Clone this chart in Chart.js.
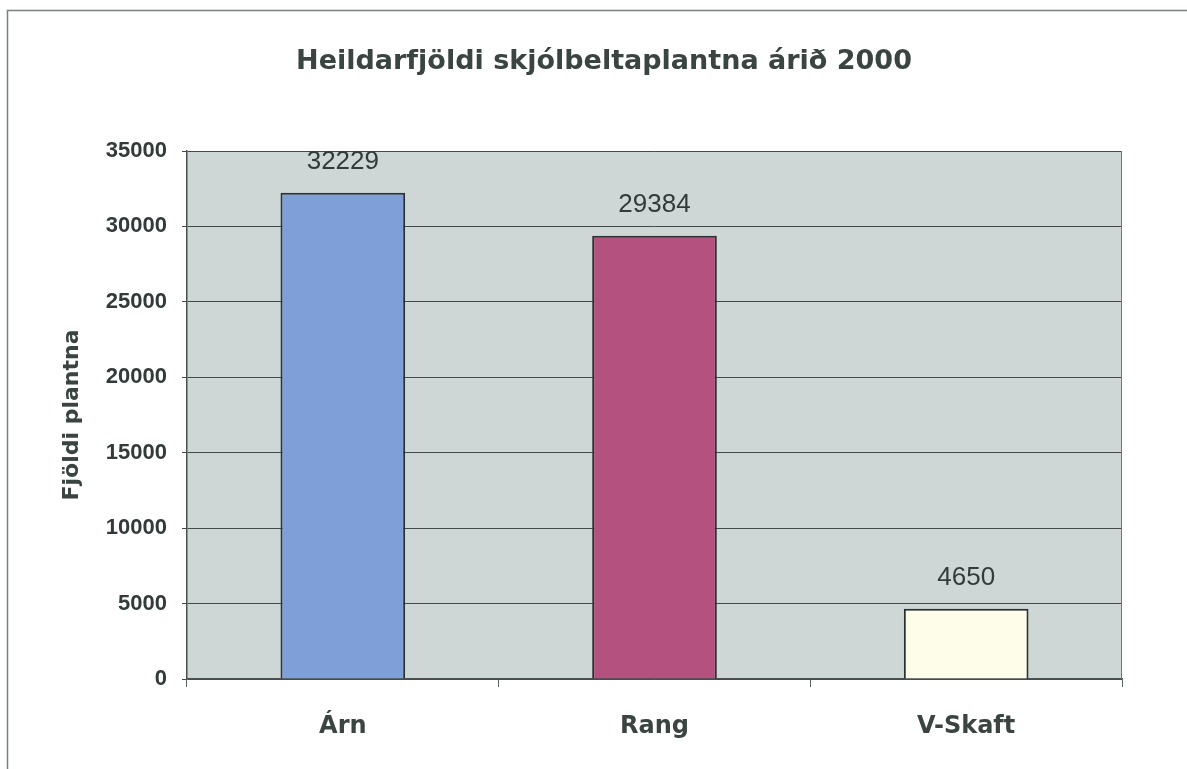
<!DOCTYPE html>
<html lang="is">
<head>
    <meta charset="UTF-8">
    <title>Heildarfjöldi skjólbeltaplantna árið 2000</title>
    <script src="https://cdn.jsdelivr.net/npm/chart.js"></script>
    <style>
        html, body { margin: 0; padding: 0; background: #fff; }
        #wrap { width: 1187px; height: 769px; }
    </style>
</head>
<body>
    <div id="wrap"><canvas id="plantChart" width="1187" height="769"></canvas></div>

    <script>
const titleText = 'Heildarfjöldi skjólbeltaplantna árið 2000';
const yAxisTitle = 'Fjöldi plantna';
const regions = ['Árn', 'Rang', 'V-Skaft'];
const plantCounts = [32229, 29384, 4650];
const barColors = ['#7f9fd9', '#b5517f', '#fdfde9'];
const yTicks = [0, 5000, 10000, 15000, 20000, 25000, 30000, 35000];

const comicFont = "'Comic Sans MS', 'DejaVu Sans', sans-serif";
const arialFont = "Arial, 'Liberation Sans', sans-serif";
const textColor = '#3a4541';

// gray plot background, outer page frame and right edge of plot
const framePlugin = {
    id: 'frame',
    beforeDraw(chart) {
        const ctx = chart.ctx;
        const a = chart.chartArea;
        ctx.save();
        ctx.fillStyle = '#ffffff';
        ctx.fillRect(0, 0, chart.width, chart.height);
        ctx.strokeStyle = '#7a7f7f';
        ctx.lineWidth = 1.5;
        ctx.beginPath();
        ctx.moveTo(7.5, chart.height);
        ctx.lineTo(7.5, 10.5);
        ctx.lineTo(chart.width, 10.5);
        ctx.stroke();
        ctx.fillStyle = '#ced7d6';
        ctx.fillRect(a.left, a.top, a.right - a.left, a.bottom - a.top);
        ctx.restore();
    },
    beforeDatasetsDraw(chart) {
        const ctx = chart.ctx;
        const a = chart.chartArea;
        ctx.save();
        ctx.strokeStyle = '#6f7676';
        ctx.lineWidth = 1;
        ctx.beginPath();
        ctx.moveTo(a.right - 0.5, a.top);
        ctx.lineTo(a.right - 0.5, a.bottom);
        ctx.stroke();
        ctx.restore();
    }
};

// value labels above the bars
const valueLabels = {
    id: 'valueLabels',
    afterDatasetsDraw(chart) {
        const ctx = chart.ctx;
        const meta = chart.getDatasetMeta(0);
        ctx.save();
        ctx.font = '26px ' + arialFont;
        ctx.fillStyle = '#333b3a';
        ctx.textAlign = 'center';
        ctx.textBaseline = 'middle';
        meta.data.forEach((bar, i) => {
            ctx.fillText(String(plantCounts[i]), bar.x, bar.y - 31);
        });
        ctx.restore();
    }
};

new Chart(document.getElementById('plantChart'), {
    type: 'bar',
    data: {
        labels: regions,
        datasets: [{
            data: plantCounts,
            backgroundColor: barColors,
            borderColor: '#2b3131',
            borderWidth: 2,
            barPercentage: 0.4,
            categoryPercentage: 1.0
        }]
    },
    options: {
        responsive: false,
        animation: false,
        layout: { padding: { left: 21, right: 0, top: 0, bottom: 0 } },
        plugins: {
            legend: { display: false },
            tooltip: { enabled: false },
            title: {
                display: true,
                text: titleText,
                color: textColor,
                font: { family: comicFont, size: 27, weight: 'bold' },
                padding: { top: 46, bottom: 72.6 }
            }
        },
        scales: {
            x: {
                grid: { drawOnChartArea: false, drawTicks: true, tickLength: 8, color: '#5a6161' },
                border: { color: '#4a5151', width: 1.5 },
                ticks: {
                    color: textColor,
                    font: { family: comicFont, size: 24, weight: 'bold' },
                    padding: 25
                },
                afterFit(scale) { scale.height = 90; }
            },
            y: {
                min: 0,
                max: 35000,
                afterBuildTicks(scale) { scale.ticks = yTicks.map(v => ({ value: v })); },
                grid: { color: '#434a4a', lineWidth: 1, tickLength: 5 },
                border: { color: '#4a5151', width: 1.5 },
                ticks: {
                    color: '#333b3a',
                    font: { family: arialFont, size: 22, weight: 'bold' },
                    padding: 15,
                    callback: v => String(v)
                },
                title: {
                    display: true,
                    text: yAxisTitle,
                    color: textColor,
                    font: { family: comicFont, size: 22, weight: 'bold' },
                    padding: { top: 38, bottom: 0 }
                },
                afterFit(scale) { scale.width = 166; }
            },
            // empty right-hand box so the title centres like the original
            spacer: {
                type: 'linear',
                position: 'right',
                grid: { display: false },
                border: { display: false },
                ticks: { display: false },
                afterFit(scale) { scale.width = 65; }
            }
        }
    },
    plugins: [framePlugin, valueLabels]
});
    </script>
</body>
</html>
